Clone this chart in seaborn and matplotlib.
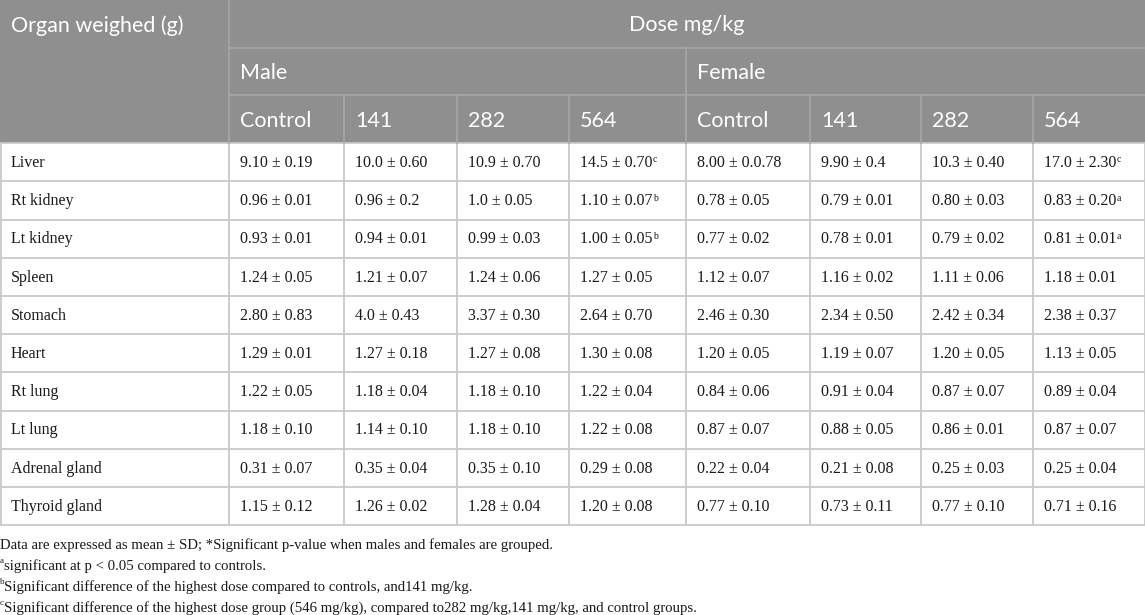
import seaborn as sns
import matplotlib.pyplot as plt

sns.set_theme(style="white")

# table content
organs = ['Liver', 'Rt kidney', 'Lt kidney', 'Spleen', 'Stomach', 'Heart',
          'Rt lung', 'Lt lung', 'Adrenal gland', 'Thyroid gland']
doses = ['Control', '141', '282', '564']

male_control = ['9.10 ± 0.19', '0.96 ± 0.01', '0.93 ± 0.01', '1.24 ± 0.05', '2.80 ± 0.83',
                '1.29 ± 0.01', '1.22 ± 0.05', '1.18 ± 0.10', '0.31 ± 0.07', '1.15 ± 0.12']
male_141 = ['10.0 ± 0.60', '0.96 ± 0.2', '0.94 ± 0.01', '1.21 ± 0.07', '4.0 ± 0.43',
            '1.27 ± 0.18', '1.18 ± 0.04', '1.14 ± 0.10', '0.35 ± 0.04', '1.26 ± 0.02']
male_282 = ['10.9 ± 0.70', '1.0 ± 0.05', '0.99 ± 0.03', '1.24 ± 0.06', '3.37 ± 0.30',
            '1.27 ± 0.08', '1.18 ± 0.10', '1.18 ± 0.10', '0.35 ± 0.10', '1.28 ± 0.04']
male_564 = ['14.5 ± 0.70', '1.10 ± 0.07', '1.00 ± 0.05', '1.27 ± 0.05', '2.64 ± 0.70',
            '1.30 ± 0.08', '1.22 ± 0.04', '1.22 ± 0.08', '0.29 ± 0.08', '1.20 ± 0.08']
female_control = ['8.00 ± 0.0.78', '0.78 ± 0.05', '0.77 ± 0.02', '1.12 ± 0.07', '2.46 ± 0.30',
                  '1.20 ± 0.05', '0.84 ± 0.06', '0.87 ± 0.07', '0.22 ± 0.04', '0.77 ± 0.10']
female_141 = ['9.90 ± 0.4', '0.79 ± 0.01', '0.78 ± 0.01', '1.16 ± 0.02', '2.34 ± 0.50',
              '1.19 ± 0.07', '0.91 ± 0.04', '0.88 ± 0.05', '0.21 ± 0.08', '0.73 ± 0.11']
female_282 = ['10.3 ± 0.40', '0.80 ± 0.03', '0.79 ± 0.02', '1.11 ± 0.06', '2.42 ± 0.34',
              '1.20 ± 0.05', '0.87 ± 0.07', '0.86 ± 0.01', '0.25 ± 0.03', '0.77 ± 0.10']
female_564 = ['17.0 ± 2.30', '0.83 ± 0.20', '0.81 ± 0.01', '1.18 ± 0.01', '2.38 ± 0.37',
              '1.13 ± 0.05', '0.89 ± 0.04', '0.87 ± 0.07', '0.25 ± 0.04', '0.71 ± 0.16']

# superscript marks for the highest dose columns
male_564_sup = ['c', 'b', 'b', '', '', '', '', '', '', '']
female_564_sup = ['c', 'a', 'a', '', '', '', '', '', '', '']

footnotes = [('', 'Data are expressed as mean ± SD; *Significant p-value when males and females are grouped.'),
             ('a', 'significant at p < 0.05 compared to controls.'),
             ('b', 'Significant difference of the highest dose compared to controls, and141 mg/kg.'),
             ('c', 'Significant difference of the highest dose group (546 mg/kg), compared to282 mg/kg,141 mg/kg, and control groups.')]

columns = [male_control, male_141, male_282, male_564,
           female_control, female_141, female_282, female_564]
sups = [None, None, None, male_564_sup, None, None, None, female_564_sup]

# layout (pixels)
W, H = 1145, 615
col_edges = [0, 229, 344, 457, 569, 686, 810, 921, 1033, 1145]
head_h = 47.7
row_h = 38.2
body_top = 3 * head_h
pad = 11

head_col = '#8f8f8f'
head_line = '#a6a6a6'
grid_col = '#c9c9c9'
txt_col = '#1a1a1a'
sans = ['Lato', 'DejaVu Sans']
serif = ['Liberation Serif', 'DejaVu Serif']

fig = plt.figure(figsize=(W / 100, H / 100), dpi=100)
ax = fig.add_axes([0, 0, 1, 1])
ax.set_xlim(0, W)
ax.set_ylim(H, 0)
ax.axis('off')

# header block
ax.add_patch(plt.Rectangle((0, 0), W, body_top, color=head_col, lw=0, zorder=0))
lw_h = 1.2
ax.plot([229, W], [head_h, head_h], color=head_line, lw=lw_h)
ax.plot([229, W], [2 * head_h, 2 * head_h], color=head_line, lw=lw_h)
ax.plot([229, 229], [0, body_top], color=head_line, lw=lw_h)
ax.plot([686, 686], [head_h, body_top], color=head_line, lw=lw_h)
for x in col_edges[2:-1]:
    ax.plot([x, x], [2 * head_h, body_top], color=head_line, lw=lw_h)

hs = 15.5
hy = 1.5
ax.text(pad, head_h / 2 + hy, 'Organ weighed (g)', color='white', fontsize=hs, family=sans, va='center')
ax.text((229 + W) / 2, head_h / 2 + hy, 'Dose mg/kg', color='white', fontsize=hs, family=sans,
        va='center', ha='center')
ax.text(229 + pad, 1.5 * head_h + hy, 'Male', color='white', fontsize=hs, family=sans, va='center')
ax.text(686 + pad, 1.5 * head_h + hy, 'Female', color='white', fontsize=hs, family=sans, va='center')
for i in range(8):
    ax.text(col_edges[i + 1] + pad, 2.5 * head_h + hy, doses[i % 4], color='white', fontsize=hs,
            family=sans, va='center')

# body grid
n = len(organs)
body_bot = body_top + n * row_h
for r in range(n + 1):
    y = body_top + r * row_h
    ax.plot([0, W], [y, y], color=grid_col, lw=1.3, zorder=1)
for x in col_edges[1:-1]:
    ax.plot([x, x], [body_top, body_bot], color=grid_col, lw=1.3, zorder=1)
ax.plot([0.5, 0.5], [body_top, body_bot], color=grid_col, lw=1.3, zorder=1)
ax.plot([W - 0.5, W - 0.5], [body_top, body_bot], color=grid_col, lw=1.3, zorder=1)

bs = 11.5
renderer = fig.canvas.get_renderer()


def sup_after(t, letter, size):
    bb = t.get_window_extent(renderer)
    ax.text(bb.x1 + 0.5, H - bb.y1 + 0.5, letter, fontsize=size, family=serif, color=txt_col,
            va='top', ha='left')


for r in range(n):
    yc = body_top + (r + 0.5) * row_h + 0.8
    ax.text(pad, yc, organs[r], fontsize=bs, family=serif, color=txt_col, va='center')
    for c in range(8):
        t = ax.text(col_edges[c + 1] + pad, yc, columns[c][r], fontsize=bs, family=serif,
                    color=txt_col, va='center')
        if sups[c] is not None and sups[c][r]:
            sup_after(t, sups[c][r], 7)

# footnotes
fs = 10.6
for k, (mark, note) in enumerate(footnotes):
    y = 545 + k * 21
    x = 0
    if mark:
        m = ax.text(0, y - 5, mark, fontsize=6.5, family=serif, color=txt_col, va='center')
        x = m.get_window_extent(renderer).x1
    ax.text(x, y, note, fontsize=fs, family=serif, color=txt_col, va='center')

fig.savefig('out.png', dpi=100)
